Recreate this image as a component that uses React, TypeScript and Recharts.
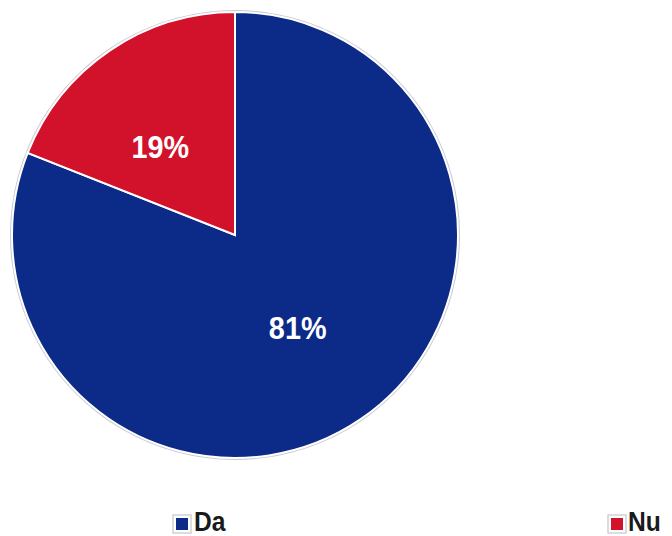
import { PieChart, Pie, Cell, Legend } from 'recharts';

const categories = ['Da', 'Nu'];
const values = [81, 19];
const colors = ['#0c2a88', '#d2112b'];

const data = categories.map((name, i) => ({ name, value: values[i] }));
const ring = [{ name: 'ring', value: values.reduce((a, b) => a + b, 0) }];

const RADIAN = Math.PI / 180;
const FONT = "'Liberation Sans', Arial, sans-serif";

// small label nudges so they sit where the original ones are
const labelNudgeX = [0, -12];
const labelNudgeY = [0, 4];

const renderLabel = (props: any) => {
    const { cx, cy, midAngle, outerRadius, percent, index } = props;
    const r = outerRadius * 0.5;
    const x = cx + r * Math.cos(-midAngle * RADIAN) + labelNudgeX[index];
    const y = cy + r * Math.sin(-midAngle * RADIAN) + labelNudgeY[index];
    return (
        <text x={0} y={0} fill="#fff" textAnchor="middle" dominantBaseline="central"
            transform={`translate(${x},${y}) scale(0.9,1)`}
            fontFamily={FONT} fontWeight="bold" fontSize={32}>
            {`${Math.round(percent * 100)}%`}
        </text>
    );
};

// legend item placement (square left edge, text left edge)
const legendSquareX = [176, 611];
const legendTextX = [194, 628];

const renderLegend = (props: any) => {
    const items = (props.payload || []).filter((e: any) => categories.includes(e.value));
    return (
        <svg width={672} height={31} style={{ overflow: 'visible', display: 'block' }}>
            {items.map((entry: any) => {
                const i = categories.indexOf(entry.value);
                return (
                    <g key={entry.value}>
                        <rect x={legendSquareX[i] - 3} y={10} width={18} height={18} fill="#fff" stroke="#cfcfd8" strokeWidth={1.5} />
                        <rect x={legendSquareX[i]} y={13} width={12} height={12} fill={colors[i]} />
                        <text x={0} y={0} transform={`translate(${legendTextX[i]},26) scale(0.88,1)`}
                            fontFamily={FONT} fontWeight="bold" fontSize={28} fill="#1a1a1a">
                            {entry.value}
                        </text>
                    </g>
                );
            })}
        </svg>
    );
};

export default function App() {
    return (
        <div style={{ position: 'absolute', left: 0, top: 0, background: '#fff' }}>
            <PieChart width={672} height={536} margin={{ top: 0, right: 0, bottom: 0, left: 0 }}>
                <Pie
                    data={ring}
                    dataKey="value"
                    cx={235}
                    cy={235}
                    outerRadius={225}
                    fill="#c9c9d3"
                    stroke="none"
                    legendType="none"
                    isAnimationActive={false}
                />
                <Pie
                    data={data}
                    dataKey="value"
                    nameKey="name"
                    cx={235}
                    cy={235}
                    outerRadius={223}
                    startAngle={90}
                    endAngle={-270}
                    stroke="#fff"
                    strokeWidth={2}
                    label={renderLabel}
                    labelLine={false}
                    isAnimationActive={false}
                >
                    {data.map((d, i) => (
                        <Cell key={d.name} fill={colors[i]} />
                    ))}
                </Pie>
                <Legend verticalAlign="bottom" wrapperStyle={{ left: 0, top: 505, width: 672 }} content={renderLegend} />
            </PieChart>
        </div>
    );
}
